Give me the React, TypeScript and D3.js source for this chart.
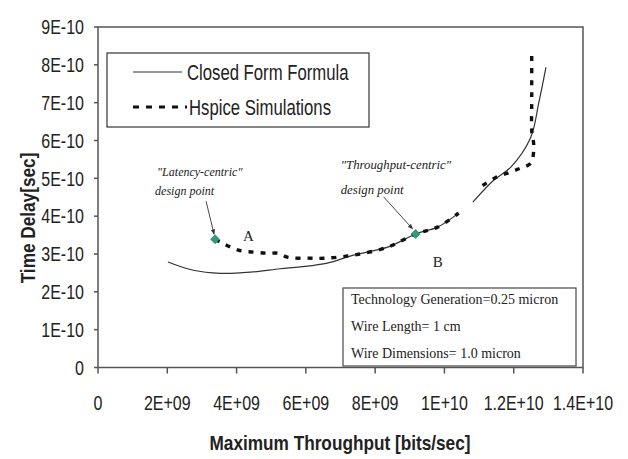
import React from "react";
import * as d3 from "d3";

// Throughput in bits/sec, delay in seconds
const closedFormThroughput = [2.02e9, 2.75e9, 3.53e9, 4.4e9, 5.26e9, 5.84e9, 6.62e9, 7.37e9, 8.36e9, 9.17e9, 9.8e9, 10.41e9, NaN, 10.82e9, 11.42e9, 11.91e9, 12.49e9, 12.72e9, 12.93e9];
const closedFormDelay = [2.79e-10, 2.57e-10, 2.49e-10, 2.52e-10, 2.61e-10, 2.66e-10, 2.76e-10, 2.97e-10, 3.18e-10, 3.53e-10, 3.71e-10, 4.08e-10, NaN, 4.37e-10, 4.95e-10, 5.29e-10, 6.08e-10, 6.98e-10, 7.93e-10];

const hspiceThroughput = [3.38e9, 3.67e9, 4.05e9, 4.48e9, 4.89e9, 5.21e9, 5.49e9, 6.04e9, 6.56e9, 7.37e9, 8.36e9, 9.17e9, 9.8e9, 10.41e9, NaN, 11.1e9, 11.48e9, 11.86e9, 12.2e9, 12.49e9, 12.58e9, 12.52e9, 12.52e9, 12.52e9, 12.52e9];
const hspiceDelay = [3.39e-10, 3.25e-10, 3.1e-10, 3.05e-10, 3.02e-10, 3.02e-10, 2.91e-10, 2.89e-10, 2.89e-10, 2.97e-10, 3.18e-10, 3.53e-10, 3.71e-10, 4.08e-10, NaN, 4.81e-10, 5.02e-10, 5.15e-10, 5.27e-10, 5.4e-10, 5.82e-10, 6.27e-10, 6.98e-10, 7.59e-10, 8.3e-10];

const designPointNames = ["A", "B"];
const designPointThroughput = [3.38e9, 9.17e9];
const designPointDelay = [3.39e-10, 3.53e-10];

const xTickValues = [0, 2e9, 4e9, 6e9, 8e9, 1e10, 1.2e10, 1.4e10];
const xTickLabels = ["0", "2E+09", "4E+09", "6E+09", "8E+09", "1E+10", "1.2E+10", "1.4E+10"];
const yTickValues = [0, 1e-10, 2e-10, 3e-10, 4e-10, 5e-10, 6e-10, 7e-10, 8e-10, 9e-10];
const yTickLabels = ["0", "1E-10", "2E-10", "3E-10", "4E-10", "5E-10", "6E-10", "7E-10", "8E-10", "9E-10"];

const legendLabels = ["Closed Form Formula", "Hspice Simulations"];
const noteLines = ["Technology Generation=0.25 micron", "Wire Length= 1 cm", "Wire Dimensions= 1.0 micron"];

const W = 628;
const H = 459;
const plot = { left: 98, right: 583, top: 27, bottom: 367.5 };
const sans = "'Liberation Sans', Arial, sans-serif";
const serif = "'Liberation Serif', 'Times New Roman', serif";
const axisColor = "#555";

// Condensed sans text: regular sans squeezed horizontally
function NarrowText(props: {
  x: number;
  y: number;
  size: number;
  squeeze?: number;
  anchor?: "start" | "middle" | "end";
  bold?: boolean;
  rotate?: number;
  dy?: string;
  children: React.ReactNode;
}) {
  const { x, y, size, squeeze = 0.8, anchor = "start", bold = false, rotate = 0, dy, children } = props;
  return (
    <text
      transform={`translate(${x},${y}) rotate(${rotate}) scale(${squeeze},1)`}
      textAnchor={anchor}
      dy={dy}
      fontFamily={sans}
      fontSize={size}
      fontWeight={bold ? "bold" : "normal"}
      fill="#222"
    >
      {children}
    </text>
  );
}

export default function App() {
  const x = d3.scaleLinear().domain([0, 1.4e10]).range([plot.left, plot.right]);
  const y = d3.scaleLinear().domain([0, 9e-10]).range([plot.bottom, plot.top]);

  const makeLine = () =>
    d3
      .line<[number, number]>()
      .defined((d) => !isNaN(d[0]) && !isNaN(d[1]))
      .x((d) => x(d[0]))
      .y((d) => y(d[1]))
      .curve(d3.curveCatmullRom.alpha(0.5));

  const closedPts = closedFormThroughput.map((t, i) => [t, closedFormDelay[i]] as [number, number]);
  const hspicePts = hspiceThroughput.map((t, i) => [t, hspiceDelay[i]] as [number, number]);

  const ax = x(designPointThroughput[0]);
  const ay = y(designPointDelay[0]);
  const bx = x(designPointThroughput[1]);
  const by = y(designPointDelay[1]);

  return (
    <svg width={W} height={H} style={{ position: "absolute", left: 0, top: 0, background: "#fff" }}>
      <defs>
        <marker id="arrowHead" viewBox="0 0 10 10" refX="9" refY="5" markerWidth="6" markerHeight="6" orient="auto">
          <path d="M0,1 L10,5 L0,9 z" fill="#333" />
        </marker>
      </defs>
      <rect x={0} y={0} width={W} height={H} fill="#fff" />

      {/* plot frame */}
      <rect
        x={plot.left}
        y={plot.top}
        width={plot.right - plot.left}
        height={plot.bottom - plot.top}
        fill="none"
        stroke={axisColor}
        strokeWidth={1.5}
      />

      {/* y axis ticks and labels */}
      {yTickValues.map((v, i) => (
        <g key={"y" + i}>
          <line x1={plot.left - 4} x2={plot.left} y1={y(v)} y2={y(v)} stroke={axisColor} strokeWidth={1.5} />
          <NarrowText x={84} y={y(v)} dy="0.36em" size={20} anchor="end">
            {yTickLabels[i]}
          </NarrowText>
        </g>
      ))}

      {/* x axis ticks and labels */}
      {xTickValues.map((v, i) => (
        <g key={"x" + i}>
          <line x1={x(v)} x2={x(v)} y1={plot.bottom} y2={plot.bottom + 6} stroke={axisColor} strokeWidth={1.5} />
          <NarrowText x={x(v)} y={410} size={20} anchor="middle">
            {xTickLabels[i]}
          </NarrowText>
        </g>
      ))}

      {/* axis titles */}
      <NarrowText x={340} y={450} size={21} squeeze={0.82} anchor="middle" bold>
        Maximum Throughput [bits/sec]
      </NarrowText>
      <NarrowText x={35} y={218} size={21} squeeze={0.82} anchor="middle" bold rotate={-90}>
        Time Delay[sec]
      </NarrowText>

      {/* closed form curve */}
      <path d={makeLine()(closedPts) || ""} fill="none" stroke="#333" strokeWidth={1.2} />

      {/* Hspice simulation curve */}
      <path
        d={makeLine()(hspicePts) || ""}
        fill="none"
        stroke="#111"
        strokeWidth={3.4}
        strokeDasharray="5,7"
      />

      {/* design point leaders */}
      <line x1={ax - 9} y1={ay - 38} x2={ax - 1} y2={ay - 5} stroke="#333" strokeWidth={0.9} markerEnd="url(#arrowHead)" />
      <line x1={bx - 32} y1={by - 37} x2={bx - 3} y2={by - 5} stroke="#333" strokeWidth={0.9} markerEnd="url(#arrowHead)" />

      {/* design point markers */}
      {designPointNames.map((n, i) => {
        const px = x(designPointThroughput[i]);
        const py = y(designPointDelay[i]);
        return (
          <path
            key={n}
            d={`M${px},${py - 4.5} L${px + 4.5},${py} L${px},${py + 4.5} L${px - 4.5},${py} Z`}
            fill="#2f9c7f"
            stroke="#1e6e58"
            strokeWidth={0.6}
          />
        );
      })}

      <text x={ax + 28} y={ay + 2} textAnchor="start" fontFamily={serif} fontSize={15} fill="#222">
        {designPointNames[0]}
      </text>
      <text x={bx + 17} y={by + 33} textAnchor="start" fontFamily={serif} fontSize={15} fill="#222">
        {designPointNames[1]}
      </text>

      <text x={ax - 58} y={ay - 63} fontFamily={serif} fontStyle="italic" fontSize={12} fill="#222">
        "Latency-centric"
      </text>
      <text x={ax - 60} y={ay - 44} fontFamily={serif} fontStyle="italic" fontSize={12} fill="#222">
        design point
      </text>
      <text x={bx - 75} y={by - 65} fontFamily={serif} fontStyle="italic" fontSize={12.8} fill="#222">
        "Throughput-centric"
      </text>
      <text x={bx - 75} y={by - 40} fontFamily={serif} fontStyle="italic" fontSize={12.8} fill="#222">
        design point
      </text>

      {/* legend */}
      <rect x={107} y={53} width={262} height={74} fill="#fff" stroke="#444" strokeWidth={1.3} />
      <line x1={133} x2={182} y1={72} y2={72} stroke="#333" strokeWidth={1.2} />
      <line x1={133} x2={187} y1={107} y2={107} stroke="#111" strokeWidth={3.2} strokeDasharray="6,7" />
      <NarrowText x={187} y={72} dy="0.36em" size={22} squeeze={0.76}>
        {legendLabels[0]}
      </NarrowText>
      <NarrowText x={189} y={107} dy="0.36em" size={22} squeeze={0.76}>
        {legendLabels[1]}
      </NarrowText>

      {/* parameter note */}
      <rect x={343} y={288} width={233} height={78} fill="#fff" stroke="#555" strokeWidth={1.3} />
      {noteLines.map((t, i) => (
        <text key={t} x={351} y={304 + i * 27} fontFamily={serif} fontSize={14} fill="#222">
          {t}
        </text>
      ))}
    </svg>
  );
}
